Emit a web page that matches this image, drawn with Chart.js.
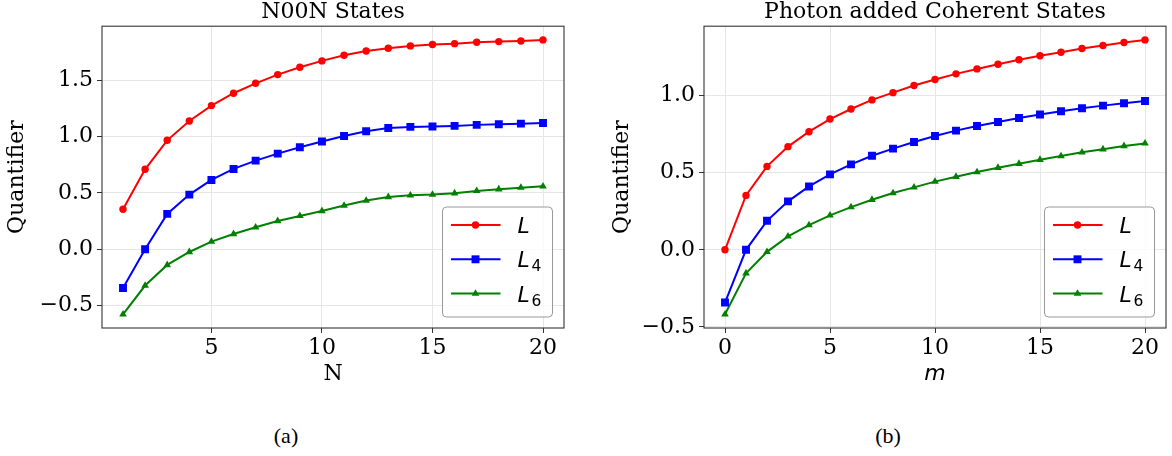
<!DOCTYPE html>
<html>
<head>
<meta charset="utf-8">
<script src="https://cdn.jsdelivr.net/npm/chart.js@4.4.1/dist/chart.umd.min.js"></script>
<style>
  body { margin: 0; background: #fff; }
  #wrap { position: relative; width: 1172px; height: 456px; }
  canvas { position: absolute; top: 0; }
  .cap { position: absolute; top: 423px; font: 22px "Liberation Serif", serif; color: #000; transform: translateX(-50%); }
</style>
</head>
<body>
<div id="wrap">
  <canvas id="chartA" width="586" height="392" style="left:0"></canvas>
  <canvas id="chartB" width="586" height="392" style="left:586px"></canvas>
  <div class="cap" style="left:286px">(a)</div>
  <div class="cap" style="left:888px">(b)</div>
</div>
<script>
// (a) N00N states
const nVals = [1,2,3,4,5,6,7,8,9,10,11,12,13,14,15,16,17,18,19,20];
const noonL  = [0.355,0.710,0.967,1.139,1.275,1.385,1.473,1.550,1.615,1.672,1.722,1.760,1.784,1.805,1.817,1.825,1.837,1.843,1.849,1.858];
const noonL4 = [-0.343,0.000,0.314,0.485,0.615,0.713,0.787,0.849,0.905,0.956,1.006,1.047,1.077,1.086,1.089,1.095,1.104,1.109,1.115,1.121];
const noonL6 = [-0.577,-0.322,-0.139,-0.024,0.068,0.136,0.195,0.251,0.296,0.340,0.388,0.432,0.464,0.479,0.485,0.497,0.518,0.533,0.547,0.559];

// (b) photon added coherent states
const mVals = [0,1,2,3,4,5,6,7,8,9,10,11,12,13,14,15,16,17,18,19,20];
const pacsL  = [0.000,0.353,0.541,0.669,0.766,0.848,0.913,0.972,1.019,1.065,1.104,1.141,1.173,1.203,1.232,1.258,1.281,1.305,1.325,1.344,1.361];
const pacsL4 = [-0.342,0.000,0.188,0.314,0.411,0.489,0.554,0.610,0.656,0.699,0.738,0.773,0.803,0.829,0.855,0.877,0.898,0.918,0.935,0.950,0.965];
const pacsL6 = [-0.418,-0.152,-0.013,0.087,0.160,0.223,0.277,0.325,0.368,0.405,0.442,0.474,0.504,0.532,0.558,0.584,0.608,0.632,0.652,0.673,0.690];

const xTicksA = [5,10,15,20];
const yTicksA = [-0.5,0,0.5,1.0,1.5];
const xTicksB = [0,5,10,15,20];
const yTicksB = [-0.5,0,0.5,1.0];

const seriesNames = ['L','L4','L6'];

// matplotlib style 5% margins
function pad(vals) {
  let lo = Math.min(...vals), hi = Math.max(...vals);
  let d = (hi - lo) * 0.05;
  return [lo - d, hi + d];
}

// frame around plot + legend box in lower right
const framePlugin = {
  id: 'frameLegend',
  afterDraw(chart) {
    const ctx = chart.ctx, a = chart.chartArea;
    ctx.save();
    ctx.strokeStyle = '#333';
    ctx.lineWidth = 1.1;
    ctx.strokeRect(a.left, a.top, a.right - a.left, a.bottom - a.top);

    let bx = a.right - 11.5 - 110, by = a.bottom - 11 - 110;
    ctx.beginPath();
    ctx.roundRect(bx, by, 110, 110, 4);
    ctx.fillStyle = 'rgba(255,255,255,0.8)';
    ctx.fill();
    ctx.strokeStyle = '#999';
    ctx.lineWidth = 1;
    ctx.stroke();

    chart.data.datasets.forEach((ds, i) => {
      let ry = by + 18 + i * 34.3;
      ctx.strokeStyle = ds.borderColor;
      ctx.lineWidth = 2;
      ctx.beginPath();
      ctx.moveTo(bx + 8.5, ry);
      ctx.lineTo(bx + 58, ry);
      ctx.stroke();
      ctx.fillStyle = ds.backgroundColor;
      Chart.helpers.drawPoint(ctx, { pointStyle: ds.pointStyle, radius: ds.pointRadius, rotation: 0, borderWidth: 0 }, bx + 33, ry);
      ctx.fillStyle = '#000';
      ctx.textBaseline = 'alphabetic';
      ctx.textAlign = 'left';
      ctx.font = 'italic 22px "DejaVu Sans"';
      ctx.fillText('L', bx + 75, ry + 8);
      let sub = seriesNames[i].slice(1);
      if (sub) {
        ctx.font = '15.5px "DejaVu Sans"';
        ctx.fillText(sub, bx + 89, ry + 12);
      }
    });
    ctx.restore();
  }
};

function makeChart(id, xs, ys, xTicks, yTicks, xRange, xTitleFont, xTitle, yWidth, padRight, yTitlePad) {
  const yr = pad(ys.flat());
  const styles = [
    { c: '#ff0000', p: 'circle', r: 3.7 },
    { c: '#0000ff', p: 'rect', r: 5.6 },
    { c: '#008000', p: 'triangle', r: 4.4 }
  ];
  const tickFont = { family: 'DejaVu Serif', size: 22 };
  return new Chart(document.getElementById(id), {
    type: 'line',
    data: {
      datasets: ys.map((v, i) => ({
        label: seriesNames[i],
        data: xs.map((x, j) => ({ x: x, y: v[j] })),
        borderColor: styles[i].c,
        backgroundColor: styles[i].c,
        borderWidth: 2,
        pointStyle: styles[i].p,
        pointRadius: styles[i].r,
        pointBorderWidth: 0,
        tension: 0
      }))
    },
    options: {
      responsive: false,
      animation: false,
      layout: { padding: { left: 0, right: padRight, top: 0, bottom: 0 } },
      plugins: {
        legend: { display: false },
        tooltip: { enabled: false },
        title: {
          display: true,
          text: id === 'chartA' ? 'N00N States' : 'Photon added Coherent States',
          fullSize: false,
          color: '#000',
          font: { family: 'DejaVu Serif', size: 22, weight: 'normal', lineHeight: 1.1 },
          padding: { top: 0, bottom: 2 }
        }
      },
      scales: {
        x: {
          type: 'linear',
          min: xRange[0], max: xRange[1],
          afterBuildTicks: s => { s.ticks = xTicks.map(v => ({ value: v })); },
          afterFit: s => { s.height = 64; },
          grid: { color: '#e6e6e6', lineWidth: 1, tickLength: 5, tickColor: '#333' },
          border: { display: false },
          ticks: { font: tickFont, color: '#000', padding: 2, maxRotation: 0 },
          title: { display: true, text: xTitle, font: xTitleFont, color: '#000', padding: { top: 0, bottom: 5 } }
        },
        y: {
          min: yr[0], max: yr[1],
          afterBuildTicks: s => { s.ticks = yTicks.map(v => ({ value: v })); },
          afterFit: s => { s.width = yWidth; },
          grid: { color: '#e6e6e6', lineWidth: 1, tickLength: 5, tickColor: '#333' },
          border: { display: false },
          ticks: {
            font: tickFont, color: '#000', padding: 4,
            callback: v => v.toFixed(1).replace('-', '\u2212')
          },
          title: { display: true, text: 'Quantifier', font: { family: 'DejaVu Serif', size: 22 }, color: '#000', padding: { top: yTitlePad, bottom: 0 } }
        }
      }
    },
    plugins: [framePlugin]
  });
}

makeChart('chartA', nVals, [noonL, noonL4, noonL6], xTicksA, yTicksA, pad(nVals),
  { family: 'DejaVu Serif', size: 22 }, 'N', 102, 22, 4);
makeChart('chartB', mVals, [pacsL, pacsL4, pacsL6], xTicksB, yTicksB, pad(mVals),
  { family: 'DejaVu Sans', size: 22, style: 'italic' }, 'm', 118, 6, 23);
</script>
</body>
</html>
